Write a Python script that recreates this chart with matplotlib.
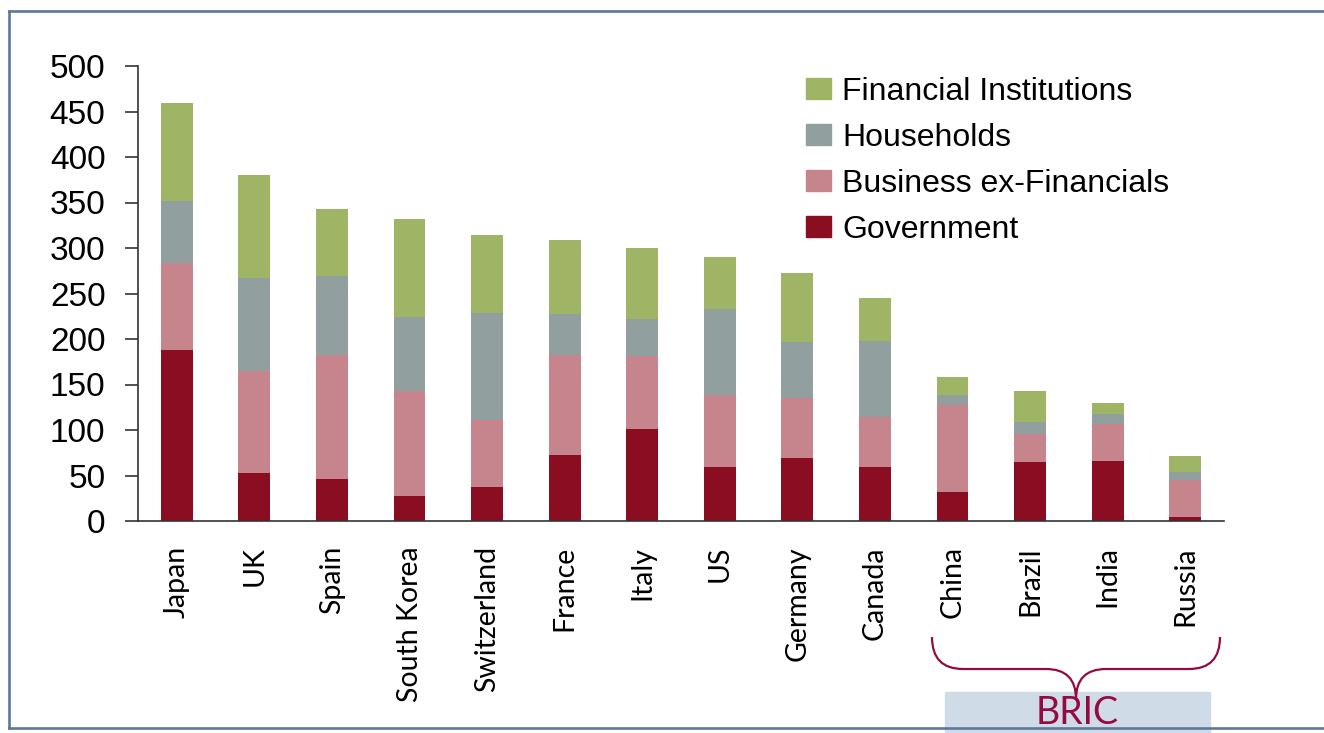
import matplotlib.pyplot as plt
from matplotlib.patches import Patch, Rectangle, PathPatch
from matplotlib.path import Path
from matplotlib.lines import Line2D
import numpy as np

paises = ["Japan", "UK", "Spain", "South Korea", "Switzerland", "France", "Italy",
          "US", "Germany", "Canada", "China", "Brazil", "India", "Russia"]
governo = [188, 53, 46.5, 27.5, 37.5, 72.5, 101, 59.5, 69, 59.5, 32, 65, 66, 4.5]
empresas = [95.5, 112, 135.5, 115.5, 74, 109.5, 80.5, 78.5, 66.5, 55, 95, 31, 40.5, 40.5]
familias = [68, 102, 87, 81, 117, 45.5, 40.5, 95.5, 61, 83.5, 11.5, 13, 11, 9]
financeiras = [107.5, 113, 74, 108, 85.5, 81.5, 78, 57, 76, 47, 19.5, 34, 12, 17.5]

nomes = ["Government", "Business ex-Financials", "Households", "Financial Institutions"]
cores = ["#8b0d21", "#c6848c", "#91a09f", "#a0b466"]

W, H = 1324, 733
fig = plt.figure(figsize=(W / 100, H / 100), dpi=100)

def px(x, y):
    # pixel (from top-left) -> figure fraction
    return x / W, 1 - y / H

ax = fig.add_axes([138 / W, 1 - 521 / H, (1224 - 138) / W, (521 - 66) / H])

x = np.arange(len(paises))
base = np.zeros(len(paises))
for serie, cor, nome in zip([governo, empresas, familias, financeiras], cores, nomes):
    ax.bar(x, serie, 0.41, bottom=base, color=cor, label=nome, zorder=2)
    base = base + np.array(serie)

fonte_estreita = ["Lato", "Roboto", "DejaVu Sans"]
fonte_normal = ["Liberation Sans", "DejaVu Sans"]

ax.set_xlim(-0.5, 13.5)
ax.set_ylim(0, 500)
ax.set_yticks(np.arange(0, 501, 50))
ax.set_xticks(x)
ax.set_xticklabels(paises, rotation=90, fontsize=20.5, family=fonte_estreita)
for rotulo in ax.get_yticklabels():
    rotulo.set_family(fonte_normal)
    rotulo.set_fontsize(24)
ax.tick_params(axis="x", length=0, pad=18)
ax.tick_params(axis="y", length=9.4, width=1.2, color="#333333", pad=14)
for lado in ["top", "right"]:
    ax.spines[lado].set_visible(False)
for lado in ["left", "bottom"]:
    ax.spines[lado].set_color("#333333")
    ax.spines[lado].set_linewidth(1.2)

alcas = [Patch(color=c) for c in cores[::-1]]
fx, fy = px(806, 77)
ax.legend(alcas, nomes[::-1], loc="upper left", bbox_to_anchor=(fx, fy),
          bbox_transform=fig.transFigure, frameon=False, borderpad=0,
          borderaxespad=0, handlelength=0.78, handleheight=0.65,
          handletextpad=0.35, labelspacing=0.5,
          prop={"family": fonte_normal, "size": 23})

# chave BRIC
cor_bric = "#960a42"
pts = [(932, 637), (932, 669), (963, 669), (1046, 669), (1076, 669), (1076, 699),
       (1076, 669), (1106, 669), (1189, 669), (1220, 669), (1220, 637)]
codes = [Path.MOVETO, Path.CURVE3, Path.CURVE3, Path.LINETO, Path.CURVE3, Path.CURVE3,
         Path.CURVE3, Path.CURVE3, Path.LINETO, Path.CURVE3, Path.CURVE3]
caminho = Path([px(a, b) for a, b in pts], codes)
fig.patches.append(PathPatch(caminho, facecolor="none", edgecolor=cor_bric, lw=1.6,
                             transform=fig.transFigure))
rx, ry = px(945, 740)
fig.patches.append(Rectangle((rx, ry), (1210 - 945) / W, 48 / H, color="#cfdbe7",
                             transform=fig.transFigure, zorder=0))
tx, ty = px(1077, 731)
fig.text(tx, ty, "BRIC", color=cor_bric, fontsize=27, ha="center", va="bottom",
         family=fonte_estreita, zorder=5)

# moldura
cor_moldura = "#5d7898"
for (a, b), (c, d) in [((9, 11), (9, 728)), ((9, 11), (1324, 11)), ((9, 728), (1324, 728))]:
    p1, p2 = px(a, b), px(c, d)
    fig.lines.append(Line2D([p1[0], p2[0]], [p1[1], p2[1]], color=cor_moldura, lw=1.9,
                            transform=fig.transFigure, zorder=3))

fig.savefig("out.png", dpi=100)
